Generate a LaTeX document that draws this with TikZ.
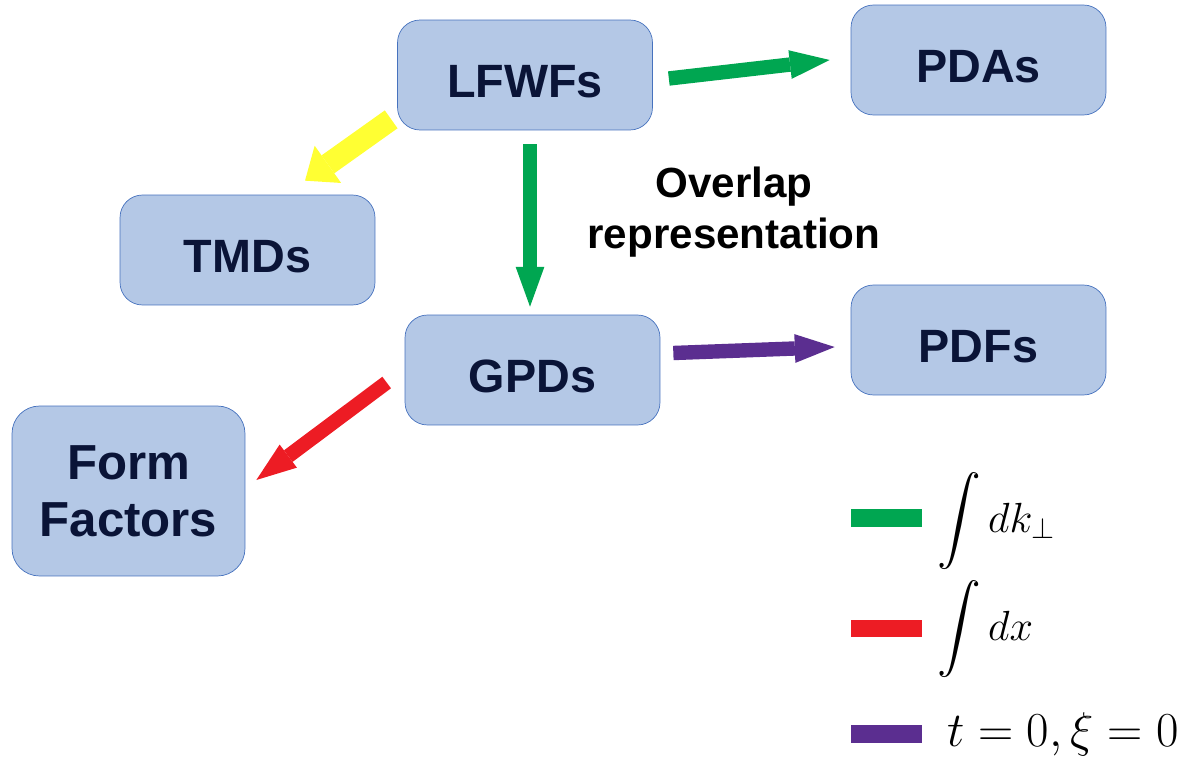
\RequirePackage{fix-cm}
\documentclass[tikz,border=0pt]{standalone}
\usepackage{exscale}
\usepackage{fontspec}
\newfontfamily\boxfont{Liberation Sans}
\usetikzlibrary{arrows.meta}
\usetikzlibrary{calc}
\definecolor{boxblau}{RGB}{180,200,230}
\definecolor{boxrand}{RGB}{70,114,190}
\definecolor{navy}{RGB}{10,20,55}
\definecolor{gruen}{RGB}{0,166,81}
\definecolor{rot}{RGB}{237,28,36}
\definecolor{lila}{RGB}{91,46,144}
\definecolor{gelb}{RGB}{255,255,51}

\begin{document}
\begin{tikzpicture}[x=0.02cm,y=-0.02cm,
  kasten/.style={draw=boxrand,fill=boxblau,rounded corners=0.45cm,
    minimum width=5.1cm,minimum height=2.2cm,inner sep=0pt,text=navy,
    text height=26pt,font=\boxfont\bfseries\fontsize{26.6}{32}\selectfont},
  pfeil/.style={line width=8.2pt,
    -{Triangle[length=22.7pt,width=16.4pt,line width=0pt]}},
  legtext/.style={anchor=base west,inner sep=0pt}]
\useasboundingbox (0,0) rectangle (1185,757);

% Kaesten
\node[kasten] (lfwfs) at (525,75) {LFWFs};
\node[kasten] (pdas) at (978.5,60) {PDAs};
\node[kasten] (tmds) at (247.5,250) {TMDs};
\node[kasten] (gpds) at (532.5,370) {GPDs};
\node[kasten] (pdfs) at (978.5,340) {PDFs};
\node[kasten,minimum width=4.66cm,minimum height=3.4cm,rounded corners=0.55cm,
  align=center,text height=,font=\boxfont\bfseries\fontsize{28}{32.3}\selectfont]
  (ff) at (128.5,491) {Form\\Factors};

\node[font=\boxfont\bfseries\fontsize{24}{29}\selectfont,align=center]
  (overlap) at (734,212) {Overlap\\representation};

% Pfeile
\draw[pfeil,gruen] ($(lfwfs.east)+(16,3.5)$) -- ($(pdas.west)+(-21,0)$);
\draw[pfeil,gruen] ($(lfwfs.south)+(5,14)$) -- ($(gpds.north)+(-2.5,-8)$);
\draw[gelb,line width=12.5pt,-{Triangle[length=16pt,width=26pt,line width=0pt]}]
  ($(lfwfs.south west)+(-6,-11)$) -- ($(tmds.north)+(57.5,-14)$);
\draw[pfeil,lila] ($(gpds.east)+(13,-17)$) -- ($(pdfs.west)+(-16,7)$);
\draw[pfeil,rot] ($(gpds.west)+(-18,12.5)$) -- ($(ff.east)+(11,-11)$);

% Legende
\fill[gruen] (851,509) rectangle (922,527);
\fill[rot] (851,620) rectangle (922,637);
\fill[lila] (851,725) rectangle (922,743);
\node[legtext,font=\fontsize{24}{29}\selectfont] (lgruen) at (937,532) {$\displaystyle\int dk_\perp$};
\node[legtext,font=\fontsize{24}{29}\selectfont] (lrot) at (937,640) {$\displaystyle\int dx$};
\node[legtext,font=\fontsize{27.8}{33}\selectfont] (llila) at (947,746) {$t=0,\xi=0$};
\end{tikzpicture}
\end{document}
